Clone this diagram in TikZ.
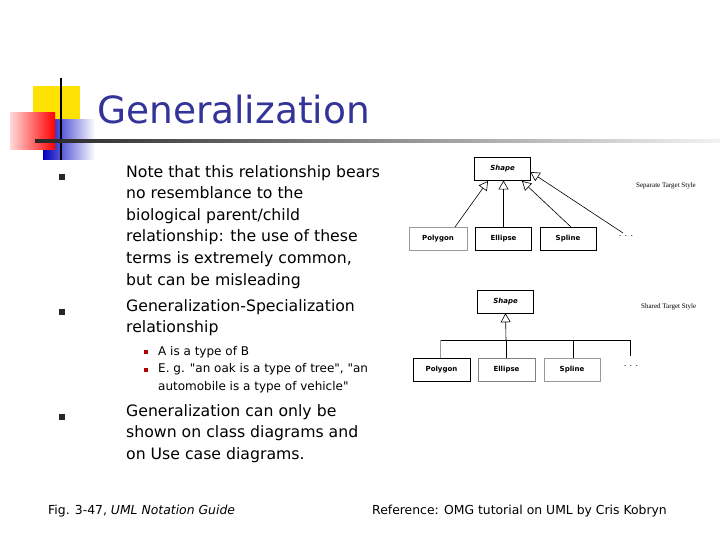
\documentclass[tikz,border=0pt]{standalone}
\usepackage{fontspec}
\setmainfont{DejaVu Sans}
\newfontfamily\serifsmall{Liberation Serif}
\usetikzlibrary{arrows.meta}
\definecolor{ttl}{HTML}{333399}
\begin{document}
\begin{tikzpicture}[x=1pt,y=-1pt,
  txt/.style={anchor=west,inner sep=0,font=\fontsize{15.7}{21.6}\selectfont},
  subtxt/.style={anchor=west,inner sep=0,font=\fontsize{12}{18}\selectfont},
  cls/.style={draw,line width=0.6pt,minimum width=56pt,minimum height=23pt,inner sep=0,font=\bfseries\fontsize{7}{8}\selectfont},
  gen/.style={-{Triangle[open,width=10pt,length=9pt]},line width=0.6pt},
  lbl/.style={anchor=west,inner sep=0,font=\serifsmall\fontsize{7}{8}\selectfont},
  bul/.style={fill=black!85,minimum size=5.5pt,inner sep=0},
  sbul/.style={fill=red!70!black,minimum size=4.5pt,inner sep=0}]
\useasboundingbox (0,0) rectangle (720,540);
% logo
\fill[yellow!85!orange] (33,86) rectangle (80,133);
\shade[left color=blue!75!black,right color=white] (43,120) rectangle (95,160);
\shade[left color=red!15,right color=red] (10,113) rectangle (55,150);
\draw[line width=1.5pt] (61,78) -- (61,160);
\shade[left color=black!85,right color=black!5] (35,140) rectangle (720,142.5);
\node[anchor=west,inner sep=0,text=ttl,font=\fontsize{37.5}{40}\selectfont] (title) at (97,110) {Generalization};
% bullets
\node[bul] (b1) at (62,177) {};
\node[bul] (b2) at (62,312) {};
\node[bul] (b3) at (62,417) {};
\node[sbul] (s1) at (146,352) {};
\node[sbul] (s2) at (146,370) {};
\node[txt,anchor=north west,align=left] (t1) at (126,165) {Note that this relationship bears\\no resemblance to the\\biological parent/child\\relationship: the use of these\\terms is extremely common,\\but can be misleading};
\node[txt,anchor=north west,align=left] (t2) at (126,299) {Generalization-Specialization\\relationship};
\node[subtxt] (u1) at (158,352) {A is a type of B};
\node[subtxt,anchor=north west,align=left] (u2) at (158,363) {E. g. \textquotedbl an oak is a type of tree\textquotedbl, \textquotedbl an\\automobile is a type of vehicle\textquotedbl};
\node[txt,anchor=north west,align=left] (t3) at (126,404) {Generalization can only be\\shown on class diagrams and\\on Use case diagrams.};
\node[anchor=west,inner sep=0,font=\fontsize{12.4}{14}\selectfont] (fig) at (48,511) {Fig. 3-47, \textit{UML Notation Guide}};
\node[anchor=west,inner sep=0,font=\fontsize{12.4}{14}\selectfont] (ref) at (372,511) {Reference: OMG tutorial on UML by Cris Kobryn};
% top diagram
\node[cls,font=\bfseries\itshape\fontsize{7}{8}\selectfont] (sh1) at (502.5,169) {Shape};
\node[cls,draw=black!40,minimum width=58pt] (p1) at (438,238.5) {Polygon};
\node[cls] (e1) at (503.5,238.5) {Ellipse};
\node[cls,minimum width=56pt] (sp1) at (568,238.5) {Spline};
\node[inner sep=0,font=\fontsize{8}{8}\selectfont] (d1) at (626,236) {. . .};
\draw[gen] (455,227) -- (488,181);
\draw[gen] (e1.north) -- (503.5,180.5);
\draw[gen] (571,227) -- (522,181);
\coordinate (d1t) at (623,233);
\draw[gen] (d1t) -- (530.5,172);
\node[lbl] (l1) at (636,186) {Separate Target Style};
% bottom diagram
\node[cls,font=\bfseries\itshape\fontsize{7}{8}\selectfont] (sh2) at (505.5,301.5) {Shape};
\node[cls,minimum width=57pt] (p2) at (441.5,369.5) {Polygon};
\node[cls,draw=black!50,minimum width=57pt] (e2) at (506.5,369.5) {Ellipse};
\node[cls,draw=black!40] (sp2) at (572,369.5) {Spline};
\node[inner sep=0,font=\fontsize{8}{8}\selectfont] (d2) at (631,366) {. . .};
\coordinate (j) at (506,340);
\draw[gen] (j) -- (sh2.south);
\draw[line width=0.6pt] (440,340) -- (630,340);
\draw[line width=0.6pt,black!40] (440,340) -- (p2.north -| 440,0);
\draw[line width=0.6pt] (j) -- (e2.north -| j);
\draw[line width=0.6pt] (573,340) -- (sp2.north -| 573,0);
\draw[line width=0.6pt] (630,340) -- (630,356);
\node[lbl] (l2) at (641,307) {Shared Target Style};
\end{tikzpicture}
\end{document}
